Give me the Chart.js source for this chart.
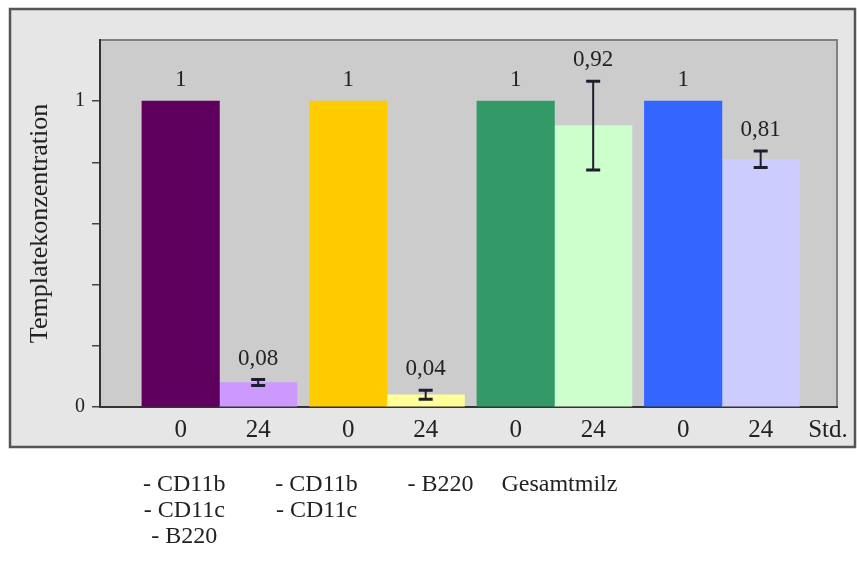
<!DOCTYPE html>
<html>
<head>
<meta charset="utf-8">
<script src="https://cdn.jsdelivr.net/npm/chart.js@4"></script>
<style>
  html, body { margin: 0; padding: 0; background: #ffffff; }
  canvas { display: block; }
</style>
</head>
<body>
<canvas id="chartTemplate" width="859" height="561"></canvas>
<script>
const gruppen = [
  ["- CD11b", "- CD11c", "- B220"],
  ["- CD11b", "- CD11c"],
  ["- B220"],
  ["Gesamtmilz"],
];
const zeiten = ["0", "24"];
const werte0 = [1, 1, 1, 1];
const werte24 = [0.08, 0.04, 0.92, 0.81];
const fehler24 = [0.01, 0.015, 0.145, 0.027];
const yLabels = [0, 1];

const farben0 = ["#5f005f", "#ffcc00", "#339966", "#3366ff"];
const farben24 = ["#cc99ff", "#ffff99", "#ccffcc", "#ccccff"];

const schrift = '"Liberation Serif", "Times New Roman", serif';
Chart.defaults.font.family = schrift;
Chart.defaults.color = "#222";

const halbAbstand = 0.2313; // bar center relative to group center (x units)

// label centers for the group names under the frame (x units)
const gruppenPos = [-0.21, 0.58, 1.32, 2.03];

const fmt = (v) => String(v).replace(".", ",");

const hintergrund = {
  id: "hintergrund",
  beforeDraw(chart) {
    const { ctx, chartArea: a } = chart;
    ctx.save();
    ctx.fillStyle = "#ffffff";
    ctx.fillRect(0, 0, chart.width, chart.height);
    // outer frame
    ctx.fillStyle = "#e6e6e6";
    ctx.fillRect(10, 9, 845, 438);
    ctx.strokeStyle = "#555";
    ctx.lineWidth = 2.5;
    ctx.strokeRect(10, 9, 845, 438);
    // plot area
    ctx.fillStyle = "#cccccc";
    ctx.fillRect(a.left, a.top, a.right - a.left, a.bottom - a.top);
    ctx.strokeStyle = "#808080";
    ctx.lineWidth = 2;
    ctx.beginPath();
    ctx.moveTo(a.left, a.top);
    ctx.lineTo(a.right, a.top);
    ctx.lineTo(a.right, a.bottom);
    ctx.stroke();
    ctx.restore();
  },
  afterDatasetsDraw(chart) {
    const { ctx } = chart;
    const y = chart.scales.y;
    ctx.save();
    ctx.font = "23px " + schrift;
    ctx.fillStyle = "#222";
    ctx.textAlign = "center";
    ctx.textBaseline = "middle";
    // 0 h labels
    chart.getDatasetMeta(0).data.forEach((bar, i) => {
      ctx.fillText(fmt(werte0[i]), bar.x, y.getPixelForValue(werte0[i]) - 21);
    });
    // 24 h error bars and labels
    ctx.strokeStyle = "#1e1e2e";
    chart.getDatasetMeta(1).data.forEach((bar, i) => {
      const oben = y.getPixelForValue(werte24[i] + fehler24[i]);
      const unten = y.getPixelForValue(werte24[i] - fehler24[i]);
      ctx.lineWidth = 2;
      ctx.beginPath();
      ctx.moveTo(bar.x, oben);
      ctx.lineTo(bar.x, unten);
      ctx.stroke();
      ctx.lineWidth = 3;
      ctx.beginPath();
      ctx.moveTo(bar.x - 7, oben);
      ctx.lineTo(bar.x + 7, oben);
      ctx.moveTo(bar.x - 7, unten);
      ctx.lineTo(bar.x + 7, unten);
      ctx.stroke();
      const spitze = Math.min(oben, y.getPixelForValue(werte24[i]));
      ctx.fillText(fmt(werte24[i]), bar.x, spitze - 21);
    });
    ctx.restore();
  },
  afterDraw(chart) {
    const { ctx, chartArea: a } = chart;
    const x = chart.scales.x;
    ctx.save();
    ctx.fillStyle = "#222";
    ctx.textBaseline = "middle";
    ctx.font = "25px " + schrift;
    ctx.textAlign = "center";
    ctx.fillText("Std.", a.right - 9, a.bottom + 23);
    ctx.font = "24px " + schrift;
    gruppen.forEach((zeilen, i) => {
      const px = x.getPixelForValue(gruppenPos[i]);
      zeilen.forEach((z, j) => {
        ctx.fillText(z, px, 485 + j * 26);
      });
    });
    ctx.restore();
  },
};

const ctxTemplate = document.getElementById("chartTemplate").getContext("2d");
new Chart(ctxTemplate, {
  type: "bar",
  data: {
    datasets: [
      {
        label: "0 Std.",
        data: werte0.map((v, i) => ({ x: i, y: v })),
        backgroundColor: farben0,
      },
      {
        label: "24 Std.",
        data: werte24.map((v, i) => ({ x: i, y: v })),
        backgroundColor: farben24,
      },
    ],
  },
  options: {
    responsive: false,
    animation: false,
    barThickness: 77.5,
    layout: { padding: { left: 24.4, top: 40, right: 22, bottom: 108 } },
    plugins: {
      legend: { display: false },
      tooltip: { enabled: false },
    },
    scales: {
      x: {
        type: "linear",
        offset: false,
        min: -0.713,
        max: 3.687,
        grid: { display: false, drawTicks: false, offset: false },
        border: { display: true, color: "#333", width: 2 },
        afterBuildTicks: (scale) => {
          const t = [];
          werte0.forEach((_, i) => {
            t.push({ value: i - halbAbstand });
            t.push({ value: i + halbAbstand });
          });
          scale.ticks = t;
        },
        ticks: {
          autoSkip: false,
          maxRotation: 0,
          padding: 8,
          font: { size: 25 },
          color: "#222",
          callback: (v, i) => zeiten[i % 2],
        },
      },
      y: {
        min: 0,
        max: 1.2,
        grid: {
          drawOnChartArea: false,
          drawTicks: true,
          tickLength: 8,
          lineWidth: 1.5,
          color: (c) => (c.tick && c.tick.value > 1.1 ? "rgba(0,0,0,0)" : "#444"),
        },
        border: { display: true, color: "#333", width: 2 },
        ticks: {
          stepSize: 0.2,
          padding: 7,
          font: { size: 20 },
          color: "#222",
          callback: (v) => (yLabels.some((l) => Math.abs(l - v) < 1e-9) ? String(Math.round(v)) : ""),
        },
        title: {
          display: true,
          text: "Templatekonzentration",
          font: { size: 26 },
          color: "#222",
          padding: { top: 0, bottom: 12.4 },
        },
      },
    },
  },
  plugins: [hintergrund],
});
</script>
</body>
</html>
